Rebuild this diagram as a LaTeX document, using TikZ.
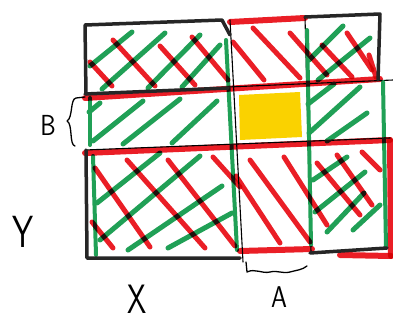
\documentclass[tikz,border=0pt]{standalone}
\definecolor{hgreen}{RGB}{32,160,86}
\definecolor{hred}{RGB}{234,30,38}
\definecolor{hyellow}{RGB}{250,210,0}
\begin{document}
\begin{tikzpicture}[x=1pt,y=-1pt,
  gh/.style={draw=hgreen,line width=5pt,line cap=round},
  rh/.style={draw=hred,line width=5pt,line cap=round},
  rdiv/.style={draw=hred,line width=6pt,line cap=round},
  gdiv/.style={draw=hgreen,line width=4pt,line cap=round},
  bthick/.style={draw=black!85,line width=3.5pt,line cap=round,line join=round},
  bthin/.style={draw=black,line width=1.1pt,line cap=round},
  hand/.style={draw=black,line width=1.3pt,line cap=round,line join=round},
  lab/.style={inner sep=0pt,font=\sffamily}]
\useasboundingbox (0,0) rectangle (393,321);
\fill[white] (0,0) rectangle (393,321);
% yellow cell
\fill[hyellow] (239,95) -- (300,92) -- (302,137) -- (240,140) -- cycle;
% thin black grid lines
\draw[bthin] (230,20) -- (243,262);
\draw[bthin] (305,17) -- (311,252);
\draw[bthin] (228,87) -- (393,80);
\draw[bthin] (85,150) -- (390,138);
% green hatching
\draw[gh] (90,66) -- (132,32);
\draw[gh] (102,89) -- (165,33);
\draw[gh] (148,88) -- (200,35);
\draw[gh] (182,87) -- (220,45);
\draw[gh] (309,60) -- (343,26);
\draw[gh] (318,80) -- (370,38);
\draw[gh] (89,112) -- (100,103);
\draw[gh] (93,141) -- (143,101);
\draw[gh] (123,144) -- (180,99);
\draw[gh] (172,143) -- (217,101);
\draw[gh] (308,104) -- (334,84);
\draw[gh] (309,133) -- (360,87);
\draw[gh] (327,141) -- (367,113);
\draw[gh] (97,203) -- (160,153);
\draw[gh] (100,240) -- (200,156);
\draw[gh] (128,250) -- (222,186);
\draw[gh] (168,248) -- (232,213);
\draw[gh] (313,180) -- (347,157);
\draw[gh] (315,212) -- (365,172);
\draw[gh] (327,232) -- (364,193);
\draw[gh] (353,230) -- (380,205);
% green edges
\draw[gdiv] (226,40) -- (237,250);
\draw[gdiv] (307,30) -- (311,245);
\draw[gdiv] (383,82) -- (386,247);
\draw[gdiv] (90,98) -- (90,145);
\draw[gdiv] (93,156) -- (96,255);
\begin{scope}[blend mode=multiply]
% red hatching
\draw[rh] (90,62) -- (112,86);
\draw[rh] (113,40) -- (155,86);
\draw[rh] (160,46) -- (195,85);
\draw[rh] (192,37) -- (228,80);
\draw[rh] (233,42) -- (264,80);
\draw[rh] (253,28) -- (300,78);
\draw[rh] (290,33) -- (327,75);
\draw[rh] (322,45) -- (352,77);
\draw[rh] (347,33) -- (372,70);
\draw[rh] (369,55) -- (376,77);
\draw[rh] (95,168) -- (150,247);
\draw[rh] (127,160) -- (205,248);
\draw[rh] (168,160) -- (235,246);
\draw[rh] (213,157) -- (240,187);
\draw[rh] (92,222) -- (113,248);
\draw[rh] (236,176) -- (280,243);
\draw[rh] (250,160) -- (310,242);
\draw[rh] (284,157) -- (327,225);
\draw[rh] (317,163) -- (360,215);
\draw[rh] (337,155) -- (372,205);
\draw[rh] (362,152) -- (380,170);
% red dividers
\draw[rdiv] (230,22) -- (305,18);
\draw[rdiv] (85,98) -- (380,79);
\draw[rdiv] (85,153) -- (390,140);
\draw[rdiv] (240,251) -- (312,249);
\draw[rdiv] (390,140) -- (391,256);
\draw[rdiv] (340,255) -- (391,256);
\end{scope}
% black borders
\draw[bthick] (86,94) -- (85,25) -- (222,20) -- (230,35);
\draw[bthick] (85,94) -- (228,88);
\draw[bthick] (305,17) -- (380,14) -- (378,80);
\draw[bthick] (86,150) -- (87,258) -- (240,258);
\draw[bthick] (310,253) -- (387,248);
% braces
\draw[hand] (85,97) -- (76,98) .. controls (70,99) and (73,118) .. (67,121)
  .. controls (73,124) and (69,145) .. (75,146);
\draw[hand] (246,262) -- (247,272) .. controls (255,268) and (262,274) .. (270,272)
  .. controls (278,270) and (282,274) .. (290,272) .. controls (297,270) and (302,270) .. (307,266);
% labels
\node[lab,font=\sffamily\fontsize{29}{29}\selectfont,xscale=0.85] (labB) at (48,125) {B};
\node[lab,font=\sffamily\fontsize{45}{45}\selectfont,xscale=0.75] (labY) at (23,232) {Y};
\node[lab,font=\sffamily\fontsize{41}{41}\selectfont,xscale=0.75] (labX) at (137,299) {X};
\node[lab,font=\sffamily\fontsize{30}{30}\selectfont,xscale=0.85] (labA) at (279,297) {A};
\end{tikzpicture}
\end{document}
